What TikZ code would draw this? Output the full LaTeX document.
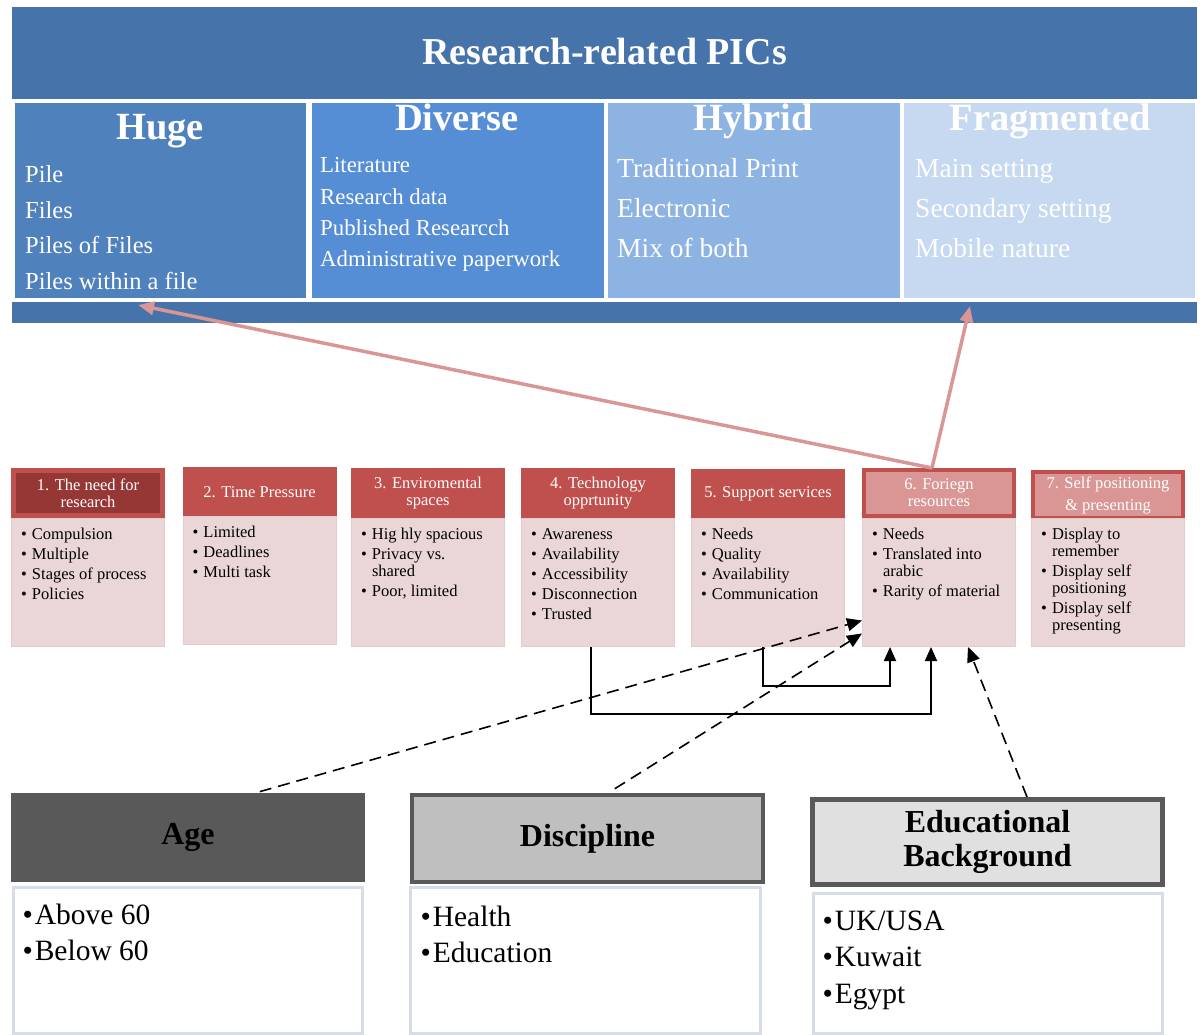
\documentclass[tikz,border=0pt]{standalone}
\usepackage{fontspec}
\setmainfont{Liberation Serif}
\usetikzlibrary{arrows.meta}

\definecolor{picblue}{RGB}{70,116,170}
\definecolor{hugeblue}{RGB}{79,129,189}
\definecolor{divblue}{RGB}{85,142,213}
\definecolor{hybblue}{RGB}{141,179,226}
\definecolor{fragblue}{RGB}{198,217,241}
\definecolor{factred}{RGB}{192,80,77}
\definecolor{darkred}{RGB}{149,55,53}
\definecolor{lightred}{RGB}{217,150,148}
\definecolor{bodypink}{RGB}{234,214,214}
\definecolor{bodyline}{RGB}{226,204,204}
\definecolor{slate}{RGB}{89,89,89}
\definecolor{greybox}{RGB}{191,191,191}
\definecolor{palegrey}{RGB}{224,224,224}
\definecolor{lavline}{RGB}{214,220,232}

\newcommand\bitem[1]{\par\hangindent=11pt\hangafter=1\noindent\makebox[11pt][l]{\textbullet}#1}
\newcommand\factlist[1]{\parbox[t][108pt][t]{134pt}{\raggedright\fontsize{16.5}{17}\selectfont\parskip=3pt #1}}
\newcommand\grouplist[2]{\parbox[t][#1][t]{330pt}{\fontsize{29.5}{36.5}\selectfont #2}}
\newcommand\gb{\textbullet\hspace{2pt}}

\begin{document}
\begin{tikzpicture}[x=1pt, y=-1pt,
  frame/.style={rectangle, fill=picblue, inner sep=0, minimum width=1185, minimum height=316},
  title/.style={text=white, font=\fontsize{38}{40}\selectfont\bfseries},
  col/.style={rectangle, draw=white, line width=4pt, inner sep=0, minimum height=198.5},
  colhead/.style={anchor=base, text=white, font=\fontsize{38.5}{40}\selectfont\bfseries},
  colitem/.style={anchor=base west, inner sep=0, text=white},
  facthead/.style={rectangle, draw=factred, fill=factred, line width=1pt, text=white,
                   align=center, inner sep=0, minimum width=153, minimum height=49,
                   font=\fontsize{16.5}{17}\selectfont},
  factbody/.style={rectangle, draw=bodyline, fill=bodypink, line width=1pt, anchor=north,
                   inner sep=0, minimum width=153, minimum height=128},
  grouphead/.style={rectangle, draw=slate, align=center, inner sep=0,
                    font=\fontsize{32}{34}\selectfont\bfseries},
  groupbody/.style={rectangle, draw=lavline, fill=white, line width=3pt, anchor=north,
                    inner sep=0, minimum width=349},
  pink/.style={-{Triangle[length=16pt,width=13pt]}, draw=lightred, line width=3.5pt},
  elbow/.style={-{Triangle[length=14pt,width=12pt]}, line width=1.8pt},
  link/.style={-{Triangle[length=15pt,width=13pt]}, line width=1.6pt, dash pattern=on 12pt off 7pt},
]
\useasboundingbox (0,0) rectangle (1202,1035);

% Research-related PICs
\node[frame] (Frame) at (604.5,165) {};
\node[title] (Title) at (604.5,52) {Research-related PICs};

\node[col, fill=hugeblue, minimum width=295] (C1) at (160.5,200.25) {};
\node[col, fill=divblue,  minimum width=296] (C2) at (457.5,200.25) {};
\node[col, fill=hybblue,  minimum width=296] (C3) at (753.5,200.25) {};
\node[col, fill=fragblue, minimum width=295] (C4) at (1049.5,200.25) {};

\node[colhead] (T1) at (160,140)  {Huge};
\node[colhead] (T2) at (457,131)  {Diverse};
\node[colhead] (T3) at (753,131)  {Hybrid};
\node[colhead] (T4) at (1050,131) {Fragmented};

\foreach \t [count=\i] in {Pile, Files, Piles of Files, Piles within a file}
  \node[colitem, font=\fontsize{24.5}{26}\selectfont] (L1-\i) at (25,{183+35.5*(\i-1)}) {\t};
\foreach \t [count=\i] in {Literature, Research data, Published Researcch, Administrative paperwork}
  \node[colitem, font=\fontsize{22.8}{24}\selectfont] (L2-\i) at (320,{173+31.3*(\i-1)}) {\t};
\foreach \t [count=\i] in {Traditional Print, Electronic, Mix of both}
  \node[colitem, font=\fontsize{27.5}{29}\selectfont] (L3-\i) at (617,{178+39.5*(\i-1)}) {\t};
\foreach \t [count=\i] in {Main setting, Secondary setting, Mobile nature}
  \node[colitem, font=\fontsize{27.5}{29}\selectfont] (L4-\i) at (915,{178+39.5*(\i-1)}) {\t};

\coordinate (hugeTip) at (138,305);
\coordinate (fragTip) at (970,306);

% Factors
\node[facthead, fill=darkred, line width=5pt, minimum width=149, minimum height=45] (H1) at (88,493)
  {1. The need for\\research};
\node[facthead] (H2) at (259.5,492) {2. Time Pressure};
\node[facthead] (H3) at (428,493)   {3. Enviromental\\spaces};
\node[facthead] (H4) at (598,493)   {4. Technology\\opprtunity};
\node[facthead] (H5) at (768,494)   {5. Support services};
\node[facthead, fill=lightred, line width=4pt, minimum width=150, minimum height=46] (H6) at (939,493)
  {6. Foriegn\\resources};
\node[facthead, fill=lightred, line width=4pt, minimum width=150, minimum height=46] (H7) at (1108,495)
  {7. Self positioning\\[5pt]\& presenting};

\node[factbody] (B1) at (88,518)    {\factlist{\bitem{Compulsion}\bitem{Multiple}\bitem{Stages of process}\bitem{Policies}}};
\node[factbody] (B2) at (259.5,516) {\factlist{\bitem{Limited}\bitem{Deadlines}\bitem{Multi task}}};
\node[factbody] (B3) at (428,518)   {\factlist{\bitem{Hig hly spacious}\bitem{Privacy vs.\newline shared}\bitem{Poor, limited}}};
\node[factbody] (B4) at (598,518)   {\factlist{\bitem{Awareness}\bitem{Availability}\bitem{Accessibility}\bitem{Disconnection}\bitem{Trusted}}};
\node[factbody] (B5) at (768,518)   {\factlist{\bitem{Needs}\bitem{Quality}\bitem{Availability}\bitem{Communication}}};
\node[factbody] (B6) at (939,518)   {\factlist{\bitem{Needs}\bitem{Translated into\newline arabic}\bitem{Rarity of material}}};
\node[factbody] (B7) at (1108,518)  {\factlist{\bitem{Display to\newline remember}\bitem{Display self\newline positioning}\bitem{Display self\newline presenting}}};

% Participant groups
\node[grouphead, fill=slate, line width=1pt, minimum width=353, minimum height=88] (AgeH) at (188,837.5) {Age};
\node[grouphead, fill=greybox, line width=4pt, minimum width=351, minimum height=87] (DiscH) at (587.5,838.5) {Discipline};
\node[grouphead, fill=palegrey, line width=5pt, minimum width=350, minimum height=85] (EduH) at (987.5,842)
  {Educational\\Background};

\node[groupbody, minimum height=146] (AgeB) at (187.5,885.5)
  {\grouplist{112pt}{\gb Above 60\\\gb Below 60}};
\node[groupbody, minimum height=146, minimum width=350] (DiscB) at (585.5,885.5)
  {\grouplist{108pt}{\gb Health\\\gb Education}};
\node[groupbody, minimum height=140] (EduB) at (987.5,891.5)
  {\grouplist{105pt}{\gb UK/USA\\\gb Kuwait\\\gb Egypt}};

% Links
\draw[pink] ([xshift=-7]H6.north) -- (hugeTip);
\draw[pink] ([xshift=-7]H6.north) -- (fragTip);

\draw[elbow] ([xshift=-7]B4.south) -- ++(0,67) -| ([xshift=-8]B6.south);
\draw[elbow] ([xshift=-5]B5.south) -- ++(0,39) -| ([xshift=-49]B6.south);

\draw[link, shorten <=5pt] ([xshift=67]AgeH.north) -- ([yshift=-38]B6.west);
\draw[link, shorten <=8pt] ([xshift=20.5]DiscH.north) -- ([yshift=-51]B6.west);
\draw[link] ([xshift=39.5]EduH.north) -- ([xshift=29]B6.south);

\end{tikzpicture}
\end{document}
